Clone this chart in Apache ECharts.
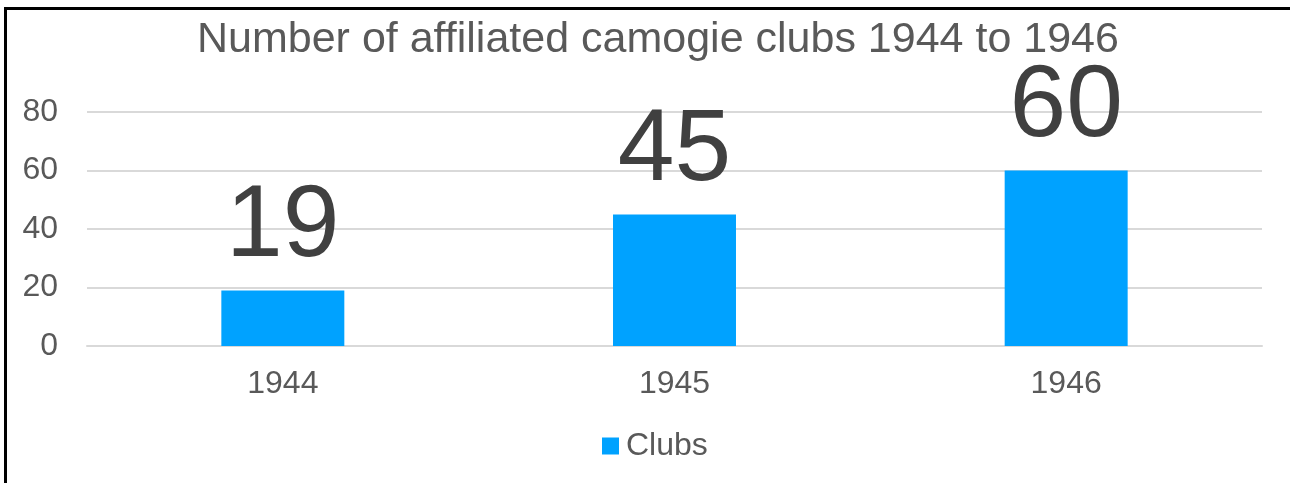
<!DOCTYPE html>
<html>
<head>
<meta charset="utf-8">
<script src="https://cdn.jsdelivr.net/npm/echarts@6/dist/echarts.min.js"></script>
<style>
  html, body { margin: 0; padding: 0; background: #fff; }
  #frame { position: absolute; left: 4px; top: 7px; width: 1290px; height: 490px;
           border-left: 3px solid #000; border-top: 3px solid #000; box-sizing: border-box; }
  #main { position: absolute; left: 0; top: 0; width: 1290px; height: 483px; }
</style>
</head>
<body>
<div id="frame"></div>
<div id="main"></div>
<script>
// 数据
var years = ['1944', '1945', '1946'];
var clubs = [19, 45, 60];
var yTicks = [0, 20, 40, 60, 80];

var myChart = echarts.init(document.getElementById('main'));
var font = 'Liberation Sans, Arial, sans-serif';

var option = {
    animation: false,
    title: {
        text: 'Number of affiliated camogie clubs 1944 to 1946',
        left: 192,
        top: 14,
        textStyle: { fontFamily: font, fontSize: 43, fontWeight: 'normal', color: '#595959' }
    },
    legend: {
        data: ['Clubs'],
        top: 425,
        left: 597,
        itemWidth: 17,
        itemHeight: 17,
        itemGap: 6,
        icon: 'rect',
        textStyle: { fontFamily: font, fontSize: 32, color: '#595959', padding: [0, 0, 0, 2] }
    },
    grid: { left: 87, right: 28, top: 112, bottom: 137 },
    xAxis: {
        type: 'category',
        data: years,
        axisLine: { show: true, lineStyle: { color: '#d9d9d9', width: 2 } },
        axisTick: { show: false },
        axisLabel: { fontFamily: font, fontSize: 32, color: '#595959', margin: 22 }
    },
    yAxis: {
        type: 'value',
        min: yTicks[0],
        max: yTicks[yTicks.length - 1],
        interval: 20,
        axisLine: { show: false },
        axisTick: { show: false },
        axisLabel: { fontFamily: font, fontSize: 32, color: '#595959', margin: 29 },
        splitLine: { lineStyle: { color: '#d9d9d9', width: 2 } }
    },
    series: [{
        name: 'Clubs',
        type: 'bar',
        data: clubs,
        barWidth: '31.4%',
        itemStyle: { color: '#00A2FF' },
        label: {
            show: true,
            position: 'top',
            distance: 12,
            fontFamily: font,
            fontSize: 102,
            color: '#404040'
        }
    }]
};
myChart.setOption(option);
</script>
</body>
</html>
